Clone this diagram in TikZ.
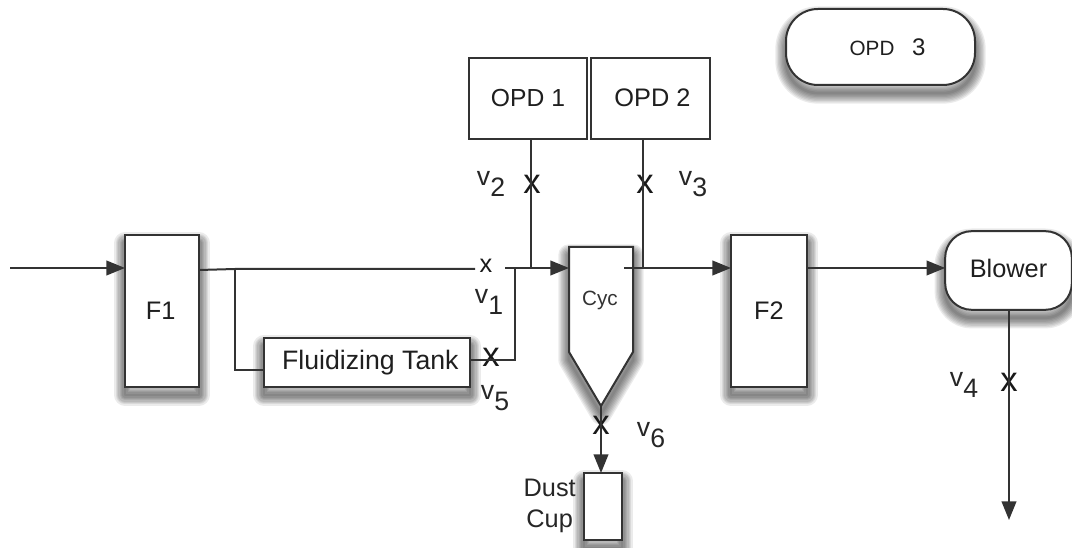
\documentclass[tikz,border=0pt]{standalone}
\usepackage{fontspec}
\setmainfont{Liberation Sans}
\usetikzlibrary{positioning,calc,arrows.meta}
\def\vlab#1{v\raisebox{-.42em}{#1}}
\tikzset{
  wire/.style={draw=black!80,line width=1.5pt},
  flow/.style={wire,-{Triangle[length=14pt,width=11pt]}},
  plainunit/.style={draw=black!80,line width=1.5pt,fill=white,inner sep=0pt,outer sep=0pt,
    text=black!88,font=\fontsize{19}{21}\selectfont},
  haze/.style={preaction={draw=black,line width=#1,line join=round,opacity=.08,
    transform canvas={yshift=-6pt}}},
  unit/.style={plainunit,haze=16pt,haze=14pt,haze=12pt,haze=10pt,haze=8pt,haze=6pt,haze=4pt,haze=2pt},
  valve/.style={inner sep=0pt,text=black!90,font=\fontsize{26}{26}\selectfont},
  vlabel/.style={inner sep=0pt,text=black!85,font=\fontsize{20}{22}\selectfont},
}
\begin{document}
\begin{tikzpicture}[x=.75pt,y=-.75pt]
    \useasboundingbox (0,0) rectangle (1072,548);
    % vessels
    \node[unit,minimum width=55.5pt,minimum height=114pt] (F1) at (162,311) {\raisebox{1pt}{F1\hspace{2pt}}};
    \node[unit,minimum width=57pt,minimum height=114pt,right=399pt of F1] (F2) {F2};
    \node[unit,minimum width=154.5pt,minimum height=36.75pt] (Tank) at (367,362.5)
      {\hspace{5pt}\fontsize{20}{22}\selectfont Fluidizing Tank};
    \node[plainunit,minimum width=88.5pt,minimum height=60.75pt] (OPD1) at (528,98.5) {\fontsize{18.5}{21}\selectfont OPD 1};
    \node[plainunit,minimum width=89.25pt,minimum height=60.75pt,right=3pt of OPD1] (OPD2) {\hspace{3pt}\raisebox{2pt}{OPD 2}};
    \node[unit,rounded corners=24pt,minimum width=141.75pt,minimum height=57pt] (OPD3) at (880.5,47)
      {\hspace{10.5pt}\fontsize{15.5}{18}\selectfont OPD\hspace{.85em}\fontsize{18}{18}\selectfont 3};
    \node[unit,rounded corners=20pt,minimum width=95pt,minimum height=59pt] (Blower) at (1008.5,270.5)
      {\raisebox{3pt}{Blower}};
    \node[unit,minimum width=28.5pt,minimum height=50.25pt] (Cup) at (603,506.5) {};
    \draw[unit] (569,247) coordinate (CycNW) -- (633,247) coordinate (CycNE) -- (633,352)
      -- (601,406) coordinate (CycTip) -- (569,352) -- cycle;
    \node[inner sep=0pt,text=black!80,font=\fontsize{15.5}{18}\selectfont] (Cyc) at (600,300) {Cyc};
    \node[vlabel,font=\fontsize{19}{23}\selectfont,align=center,anchor=east] (Dust) at (576,506) {Dust\\Cup};
    % valves
    \node[valve,font=\fontsize{19}{19}\selectfont] (x1) at (486,266) {x};
    \node[valve] (x2) at (532,184) {x};
    \node[valve] (x3) at (645,184) {x};
    \node[valve] (x4) at (1009,382) {x};
    \node[valve] (x5) at (491,357) {x};
    \node[valve] (x6) at (601,425) {x};
    \node[vlabel] (v1) at (489,302) {\vlab{1}};
    \node[vlabel] (v2) at (491,184) {\vlab{2}};
    \node[vlabel] (v3) at (693,184) {\vlab{3}};
    \node[vlabel] (v4) at (964,385) {\vlab{4}};
    \node[vlabel] (v5) at (495,398) {\vlab{5}};
    \node[vlabel] (v6) at (651,435) {\vlab{6}};
    % junctions
    \coordinate (in) at (10,268);
    \coordinate (a) at (235,269);
    \coordinate (b) at (235,370);
    \coordinate (c) at (475,269);
    \coordinate (d) at (505,268);
    \coordinate (e) at (515,268);
    \coordinate (f) at (515,360);
    \coordinate (g) at (531,268);
    \coordinate (h) at (643,268);
    \coordinate (i) at (624,268);
    \coordinate (out) at (1009,520);
    \draw[flow] (in) -- (in -| F1.west);
    \draw[wire] (F1.east |- 0,270) -- (a) -- (c);
    \draw[wire] (a) -- (b) -- (b -| Tank.west);
    \draw[wire] (Tank.east |- f) -- (f) -- (e);
    \draw[flow] (d) -- (d -| CycNW);
    \draw[wire] (OPD1.south -| g) -- (g);
    \draw[wire] (OPD2.south -| h) -- (h);
    \draw[flow] (i) -- (i -| F2.west);
    \draw[flow] (F2.east |- i) -- (i -| Blower.west);
    \draw[flow] (CycTip) -- (Cup.north -| CycTip);
    \draw[flow] (Blower.south -| out) -- (out);
\end{tikzpicture}
\end{document}
